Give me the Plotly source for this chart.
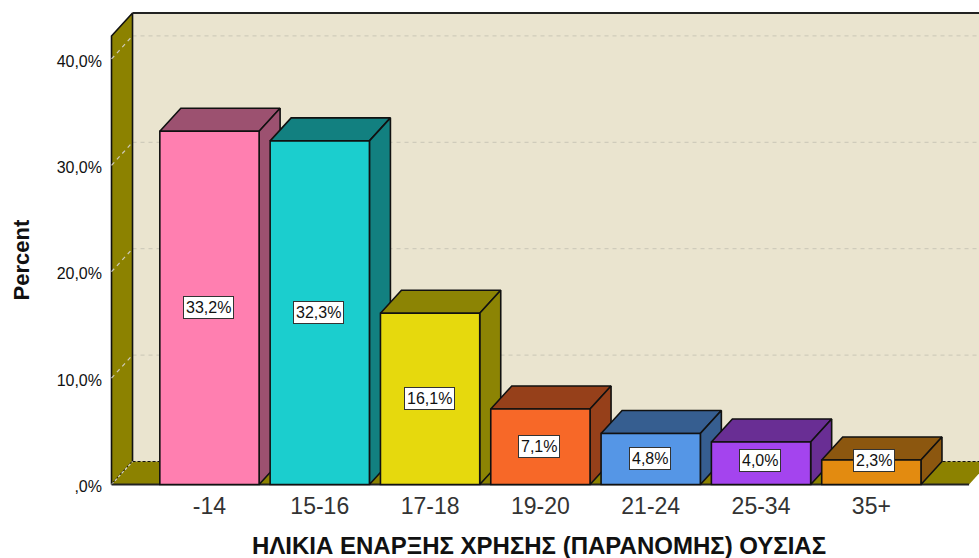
import plotly.graph_objects as go

categories = ["-14", "15-16", "17-18", "19-20", "21-24", "25-34", "35+"]
percent = [33.2, 32.3, 16.1, 7.1, 4.8, 4.0, 2.3]
labels = ["33,2%", "32,3%", "16,1%", "7,1%", "4,8%", "4,0%", "2,3%"]
front_colors = ["#FF7FB0", "#1BCECE", "#E6D90D", "#F76828", "#5596E6", "#A444EE", "#E38B10"]
shade_colors = ["#9C5170", "#128080", "#8C8404", "#96401A", "#365E90", "#692E94", "#8C570F"]
y_ticks = [0, 10, 20, 30, 40]
y_tick_text = [",0%", "10,0%", "20,0%", "30,0%", "40,0%"]

# axis scale: pixels per unit
PX_X, PX_Y = 110.3, 10.64
DX, DY = 21 / PX_X, 23 / PX_Y       # oblique depth in axis units
BAR_W = 0.9
X0, X1 = -0.888, 6.886              # front floor extent
WALL_TOP = 42.15

WALL = "#8C8200"
BACK = "#EAE4CF"
GRID = "#CFCBBB"
INK = "#111111"

fig = go.Figure()


def poly(xs, ys, fill, line=INK, width=1.6):
    fig.add_trace(go.Scatter(x=xs, y=ys, mode="lines", fill="toself", fillcolor=fill,
                             line=dict(color=line, width=width), hoverinfo="skip",
                             showlegend=False))


def seg(xs, ys, color=INK, width=1.6, dash="solid"):
    fig.add_trace(go.Scatter(x=xs, y=ys, mode="lines",
                             line=dict(color=color, width=width, dash=dash),
                             hoverinfo="skip", showlegend=False))


# back wall and its gridlines
back_l, back_r = X0 + DX, X1 + DX
poly([back_l, back_l, back_r, back_r, back_l],
     [DY, WALL_TOP + DY, WALL_TOP + DY, DY, DY], BACK, line="rgba(0,0,0,0)", width=0)
for t in y_ticks:
    if t > 0:
        seg([back_l, back_r], [t + DY, t + DY], GRID, 1.2, "4px,4px")

# left wall
poly([X0, X0, back_l, back_l, X0], [0, WALL_TOP, WALL_TOP + DY, DY, 0], WALL)
for t in y_ticks:
    if t > 0:
        seg([X0, back_l], [t, t + DY], GRID, 1.2, "4px,4px")

# floor
poly([X0, back_l, back_r, X1, X0], [0, DY, DY, 0, 0], WALL, line="rgba(0,0,0,0)", width=0)
seg([back_l, back_r], [DY, DY], INK, 1.2, "3px,2px")
seg([X0, back_l], [0, DY], "#DDD9C8", 1.2, "3px,2px")
seg([back_l, back_r], [WALL_TOP + DY, WALL_TOP + DY], "#222222", 2)
seg([X0, X1], [0, 0], "#222222", 2)

# bar tops and sides, on the main axes
for i, v in enumerate(percent):
    l, r = i - BAR_W / 2, i + BAR_W / 2
    poly([l, l + DX, r + DX, r, l], [v, v + DY, v + DY, v, v], shade_colors[i])
    poly([r, r + DX, r + DX, r, r], [0, DY, v + DY, v, 0], shade_colors[i])

# bar fronts, on overlay axes so they cover the neighbouring bar's side
fig.add_trace(go.Bar(x=list(range(len(categories))), y=percent, width=BAR_W,
                     marker=dict(color=front_colors, line=dict(color=INK, width=1.6)),
                     xaxis="x2", yaxis="y2", hoverinfo="skip", showlegend=False))

for i, v in enumerate(percent):
    fig.add_annotation(x=i, y=max(v / 2, 2.3), xref="x", yref="y", text=labels[i],
                       showarrow=False, bgcolor="white", bordercolor="#333333",
                       borderwidth=1, borderpad=2, xshift=3 if i == 6 else -1,
                       font=dict(family="Liberation Sans", size=16, color="#111111"))

x_range = [-0.938, 6.976]
y_range = [-0.517, 45.07]

fig.update_layout(
    width=979, height=558,
    margin=dict(l=106, r=0, t=5, b=68, pad=0),
    paper_bgcolor="white", plot_bgcolor="white",
    showlegend=False, barmode="overlay",
    font=dict(family="Liberation Sans"),
    xaxis=dict(range=x_range, tickmode="array", tickvals=list(range(len(categories))),
               ticktext=categories, showgrid=False, zeroline=False, showline=False,
               ticks="", tickfont=dict(size=23, color="#333333")),
    yaxis=dict(range=y_range, tickmode="array", tickvals=y_ticks, ticktext=y_tick_text,
               showgrid=False, zeroline=False, showline=False, ticks="",
               ticklabelstandoff=3, ticklabelshift=2,
               tickfont=dict(size=16, color="#111111")),
    xaxis2=dict(range=x_range, overlaying="x", visible=False),
    yaxis2=dict(range=y_range, overlaying="y", visible=False),
)

fig.add_annotation(text="<b>ΗΛΙΚΙΑ ΕΝΑΡΞΗΣ ΧΡΗΣΗΣ (ΠΑΡΑΝΟΜΗΣ) ΟΥΣΙΑΣ</b>",
                   xref="paper", yref="paper", x=0.496, y=-0.1135,
                   xanchor="center", yanchor="middle", showarrow=False,
                   font=dict(size=24, color="#111111", family="Liberation Sans"))
fig.add_annotation(text="<b>Percent</b>", xref="paper", yref="paper", x=-0.097, y=0.474,
                   xanchor="center", yanchor="middle", showarrow=False, textangle=-90,
                   font=dict(size=22, color="#111111", family="Liberation Sans"))

fig.write_html("out.html", config={"displayModeBar": False},
               post_script="document.body.style.margin='0';")
